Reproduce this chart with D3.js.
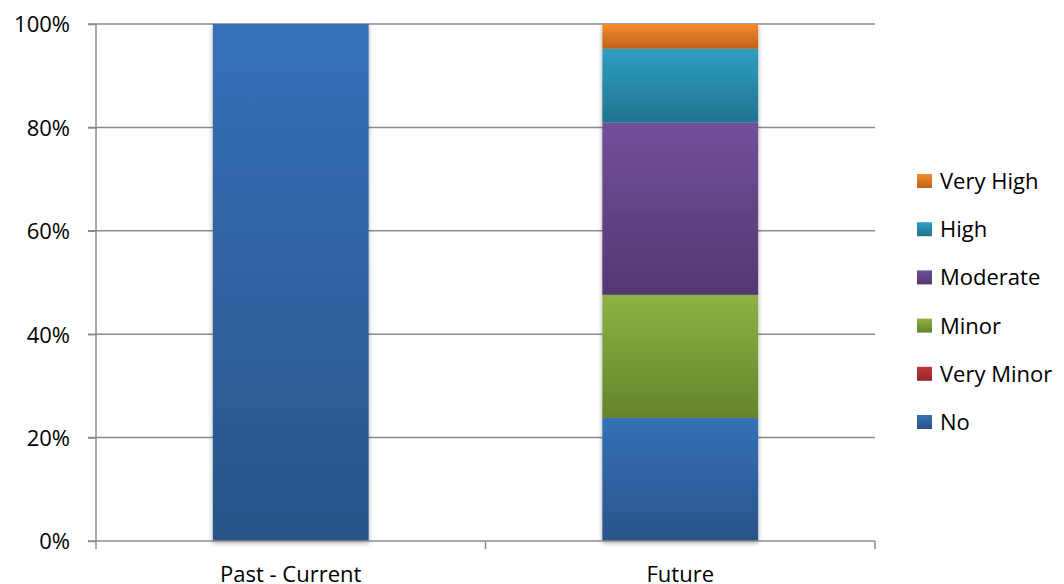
<!DOCTYPE html>
<html><head><meta charset="utf-8">
<script src="https://cdn.jsdelivr.net/npm/d3@7"></script>
<style>body{margin:0;background:#fff;overflow:hidden}svg{display:block}text{font-family:"Open Sans",sans-serif;fill:#000}</style>
</head><body>
<svg id="c" width="1064" height="584"></svg>
<script>
const categories = ["Past - Current", "Future"];
const seriesNames = ["No", "Very Minor", "Minor", "Moderate", "High", "Very High"];
const No = [21, 5];
const VeryMinor = [0, 0];
const Minor = [0, 5];
const Moderate = [0, 7];
const High = [0, 3];
const VeryHigh = [0, 1];
const yTicks = [0, 0.2, 0.4, 0.6, 0.8, 1];
const colorsTop = ["#3571b8", "#c0393b", "#8db343", "#72509a", "#2f9fc2", "#f68a2a"];
const colorsBot = ["#2a5389", "#93272a", "#65832b", "#523870", "#21738f", "#bd621b"];

const seriesVals = [No, VeryMinor, Minor, Moderate, High, VeryHigh];
const rows = categories.map((c, i) => {
  const r = {cat: c};
  const tot = d3.sum(seriesVals, s => s[i]);
  seriesNames.forEach((n, k) => r[n] = seriesVals[k][i] / tot);
  return r;
});
const stack = d3.stack().keys(seriesNames)(rows);

const FS = 22;
const svg = d3.select("#c");
const L = 96, R = 875, T = 24, B = 541;
const x = d3.scaleBand().domain(categories).range([L, R]).paddingInner(0.6).paddingOuter(0.3);
const xb = d3.scaleBand().domain(categories).range([L, R]);
const y = d3.scaleLinear().domain([0, 1]).range([B, T]);

const defs = svg.append("defs");
seriesNames.forEach((n, k) => {
  const g = defs.append("linearGradient").attr("id", "g" + k).attr("x1", 0).attr("x2", 0).attr("y1", 0).attr("y2", 1);
  g.append("stop").attr("offset", "0%").attr("stop-color", colorsTop[k]);
  g.append("stop").attr("offset", "100%").attr("stop-color", colorsBot[k]);
});
const f = defs.append("filter").attr("id", "sh").attr("x", "-10%").attr("y", "-10%").attr("width", "120%").attr("height", "120%");
f.append("feGaussianBlur").attr("in", "SourceAlpha").attr("stdDeviation", 2.5);
f.append("feOffset").attr("dx", 0).attr("dy", 1.5).attr("result", "b");
f.append("feComponentTransfer").append("feFuncA").attr("type", "linear").attr("slope", 0.35);
const fm = f.append("feMerge"); fm.append("feMergeNode"); fm.append("feMergeNode").attr("in", "SourceGraphic");

// gridlines
svg.append("g").selectAll("line").data(yTicks.slice(1)).join("line")
  .attr("x1", L - 8).attr("x2", R).attr("y1", d => y(d)).attr("y2", d => y(d))
  .attr("stroke", "#8c8c8c").attr("stroke-width", 1.5);

// bars
const gb = svg.append("g");
categories.forEach(c => {
  const g = gb.append("g").attr("filter", "url(#sh)");
  stack.forEach((s, k) => {
    const d = s.find(e => e.data.cat === c);
    if (d[1] - d[0] <= 0) return;
    g.append("rect").attr("x", x(c)).attr("width", x.bandwidth())
      .attr("y", y(d[1])).attr("height", y(d[0]) - y(d[1]))
      .attr("fill", "url(#g" + k + ")");
  });
});

// axes
const ya = svg.append("g").attr("transform", `translate(${L},0)`)
  .call(d3.axisLeft(y).tickValues(yTicks).tickFormat(d3.format(".0%")).tickSize(8).tickPadding(18));
ya.select(".domain").attr("stroke", "#8c8c8c").attr("stroke-width", 1.5).attr("d", `M0,${T}V${B}`);
ya.selectAll(".tick line").attr("stroke", "#8c8c8c").attr("stroke-width", 1.5);
ya.selectAll(".tick text").attr("font-size", FS).attr("font-family", "'Open Sans',sans-serif").attr("fill", "#000").attr("dy", "0.36em");

const xa = svg.append("g").attr("transform", `translate(0,${B})`);
xa.append("line").attr("x1", L - 8).attr("x2", R).attr("stroke", "#8c8c8c").attr("stroke-width", 1.5);
xa.selectAll("line.t").data([L, ...categories.map(c => xb(c) + xb.bandwidth())]).join("line")
  .attr("class", "t").attr("x1", d => d).attr("x2", d => d).attr("y1", 0).attr("y2", 8)
  .attr("stroke", "#8c8c8c").attr("stroke-width", 1.5);
xa.selectAll("text").data(categories).join("text")
  .attr("x", c => x(c) + x.bandwidth() / 2).attr("y", 41).attr("text-anchor", "middle")
  .attr("font-size", FS).text(c => c);

// legend
const lg = svg.append("g");
const order = seriesNames.slice().reverse();
order.forEach((n, i) => {
  const k = seriesNames.indexOf(n);
  const yy = 181 + i * 48.2;
  lg.append("rect").attr("x", 917).attr("y", yy - 7).attr("width", 15).attr("height", 14).attr("fill", "url(#g" + k + ")");
  lg.append("text").attr("x", 940).attr("y", yy).attr("dy", "0.36em").attr("font-size", FS).text(n);
});
</script>
</body></html>
